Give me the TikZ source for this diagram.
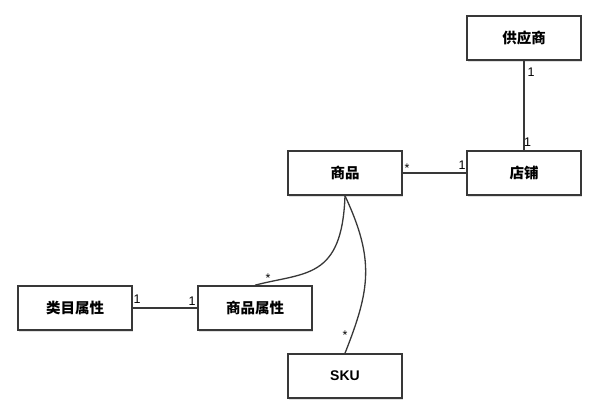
\documentclass[tikz,border=0pt]{standalone}
\usepackage{fontspec}
\setmainfont{Liberation Sans}
\newfontfamily\cjk{Noto Sans CJK SC}
\usetikzlibrary{shadows}
\definecolor{ink}{HTML}{383838}
\tikzset{
  entity/.style={draw=ink, line width=1.6pt, fill=white, minimum width=114pt,
    minimum height=44pt, inner sep=0pt,
    font=\cjk\bfseries\fontsize{14.5pt}{16pt}\selectfont,
    drop shadow={shadow xshift=1.2pt, shadow yshift=-1.6pt, opacity=0.25}},
  link/.style={draw=ink, line width=1.3pt},
  mult/.style={inner sep=0pt, font=\fontsize{12.5pt}{13pt}\selectfont, text=black}
}
\begin{document}
\begin{tikzpicture}[x=1pt, y=-1pt]
\useasboundingbox (0,0) rectangle (600,420);
\fill[white] (0,0) rectangle (600,420);

% entities
\node[entity] (supplier)  at (524,38)  {供应商};
\node[entity] (store)     at (524,173) {店铺};
\node[entity] (goods)     at (345,173) {商品};
\node[entity] (catattr)   at (75,308)  {类目属性};
\node[entity] (goodsattr) at (255,308) {商品属性};
\node[entity, font=\bfseries\fontsize{14pt}{16pt}\selectfont] (sku) at (345,376) {SKU};

% associations
\draw[link] (supplier) -- (store);
\draw[link] (goods) -- (store);
\draw[link] (catattr) -- (goodsattr);
\draw[link] (goods.south) .. controls (342,280) and (305,272) .. (goodsattr.north);
\draw[link] (goods.south) .. controls (375,260) and (370,290) .. (sku.north);

% multiplicities
\node[mult] (m1) at (531,72)  {1};
\node[mult] (m2) at (527.5,142) {1};
\node[mult] (m3) at (407,168) {*};
\node[mult] (m4) at (462,165) {1};
\node[mult] (m5) at (137,299) {1};
\node[mult] (m6) at (192,301) {1};
\node[mult] (m7) at (268,278) {*};
\node[mult] (m8) at (345,335) {*};
\end{tikzpicture}
\end{document}
